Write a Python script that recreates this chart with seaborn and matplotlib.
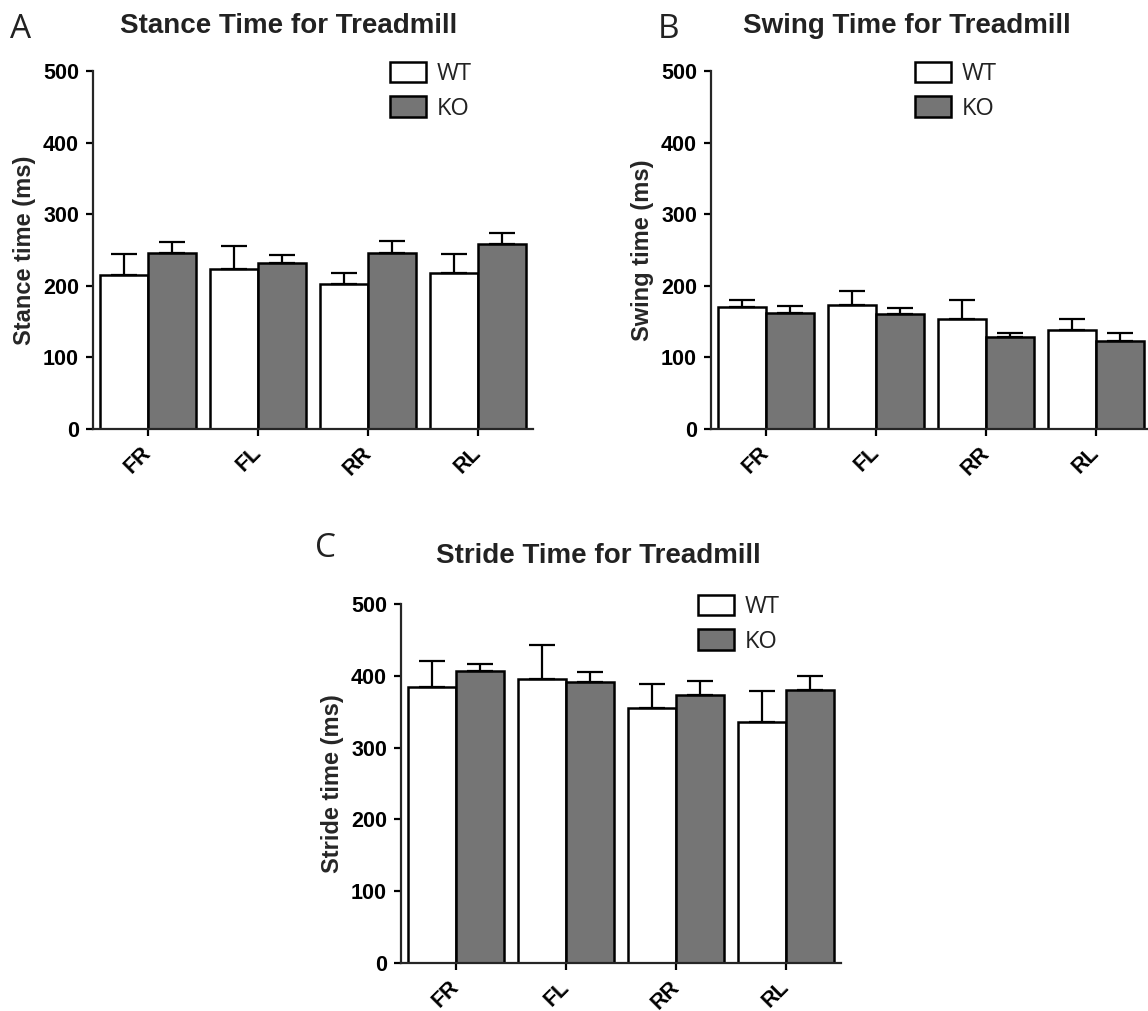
import pandas as pd
import seaborn as sns
import matplotlib.pyplot as plt

# limbs on the x axis, two genotypes per limb
limbs = ['FR', 'FL', 'RR', 'RL']
groups = ['WT', 'KO']

# mean and upper error (SEM) in ms
stance_wt = [215, 224, 203, 218]
stance_wt_err = [30, 31, 15, 26]
stance_ko = [246, 232, 246, 258]
stance_ko_err = [15, 11, 16, 16]

swing_wt = [170, 173, 153, 138]
swing_wt_err = [10, 20, 27, 15]
swing_ko = [162, 160, 128, 123]
swing_ko_err = [10, 9, 6, 11]

stride_wt = [384, 395, 355, 336]
stride_wt_err = [36, 48, 34, 43]
stride_ko = [406, 391, 373, 380]
stride_ko_err = [11, 14, 20, 20]

sns.set_style('ticks')
plt.rcParams['font.family'] = ['Liberation Sans', 'DejaVu Sans']
plt.rcParams['text.color'] = '#222222'

W, H = 1148, 1011
fig = plt.figure(figsize=(W / 100, H / 100), dpi=100)


def add_ax(left, top, right, bottom):
    return fig.add_axes([left / W, 1 - bottom / H, (right - left) / W, (bottom - top) / H])


def panel(ax, wt, wt_err, ko, ko_err, ylabel, legend_x):
    df = pd.DataFrame({'limb': limbs * 2,
                       'group': ['WT'] * len(limbs) + ['KO'] * len(limbs),
                       'value': wt + ko})
    sns.barplot(data=df, x='limb', y='value', hue='group', order=limbs, hue_order=groups,
                palette={'WT': 'white', 'KO': '#757575'}, edgecolor='black', linewidth=1.8,
                width=0.873, gap=0, errorbar=None, ax=ax)

    # upper-only error bars on top of each bar
    for bars, err in zip(ax.containers, [wt_err, ko_err]):
        xs = [b.get_x() + b.get_width() / 2 for b in bars]
        ys = [b.get_height() for b in bars]
        ax.errorbar(xs, ys, yerr=[[0] * len(err), err], fmt='none', ecolor='black',
                    elinewidth=1.6, capsize=9.5, capthick=1.6, zorder=1)

    ax.set_xlim(-0.5, 3.5)
    ax.set_ylim(0, 500)
    sns.despine(ax=ax)
    for s in ['left', 'bottom']:
        ax.spines[s].set_linewidth(1.6)
    ax.tick_params(width=1.6, length=5, pad=5, colors='black')
    ax.set_yticks(range(0, 501, 100))
    ax.set_yticklabels([str(v) for v in range(0, 501, 100)], fontsize=15.5, fontweight='bold')
    ax.set_xticks(range(len(limbs)))
    ax.set_xticklabels(limbs, rotation=45, ha='right', va='center', rotation_mode='anchor',
                       fontsize=15.5, fontweight='bold')
    for lbl in ax.get_xticklabels():
        lbl.set_y(-0.02)
    ax.set_xlabel('')
    ax.set_ylabel(ylabel, fontsize=17, fontweight='bold', va='center')
    ax.yaxis.set_label_coords(-0.155, 0.5)

    handles, labels = ax.get_legend_handles_labels()
    leg = ax.legend(handles, labels, loc='upper left', bbox_to_anchor=(legend_x, 1.025),
                    frameon=False, prop={'family': 'Open Sans', 'size': 17},
                    handlelength=1.52, handleheight=0.95, handletextpad=0.45,
                    labelspacing=0.42, borderpad=0, borderaxespad=0)
    for h in leg.legend_handles:
        h.set_edgecolor('black')
        h.set_linewidth(1.8)


ax_a = add_ax(93, 71, 533, 429)
panel(ax_a, stance_wt, stance_wt_err, stance_ko, stance_ko_err, 'Stance time (ms)', 0.675)

ax_b = add_ax(711, 71, 1151, 429)
panel(ax_b, swing_wt, swing_wt_err, swing_ko, swing_ko_err, 'Swing time (ms)', 0.464)

ax_c = add_ax(401, 604, 841, 963)
panel(ax_c, stride_wt, stride_wt_err, stride_ko, stride_ko_err, 'Stride time (ms)', 0.675)

# panel titles and letters
fig.text(289 / W, 1 - 33 / H, 'Stance Time for Treadmill', ha='center', va='baseline',
         fontsize=20, fontweight='bold')
fig.text(907 / W, 1 - 33 / H, 'Swing Time for Treadmill', ha='center', va='baseline',
         fontsize=20, fontweight='bold')
fig.text(598 / W, 1 - 563 / H, 'Stride Time for Treadmill', ha='center', va='baseline',
         fontsize=20, fontweight='bold')

for letter, x, y in [('A', 10, 38), ('B', 658, 38), ('C', 315, 557)]:
    fig.text(x / W, 1 - y / H, letter, fontsize=24, family='Open Sans', va='baseline')

fig.savefig('out.png', dpi=100)
